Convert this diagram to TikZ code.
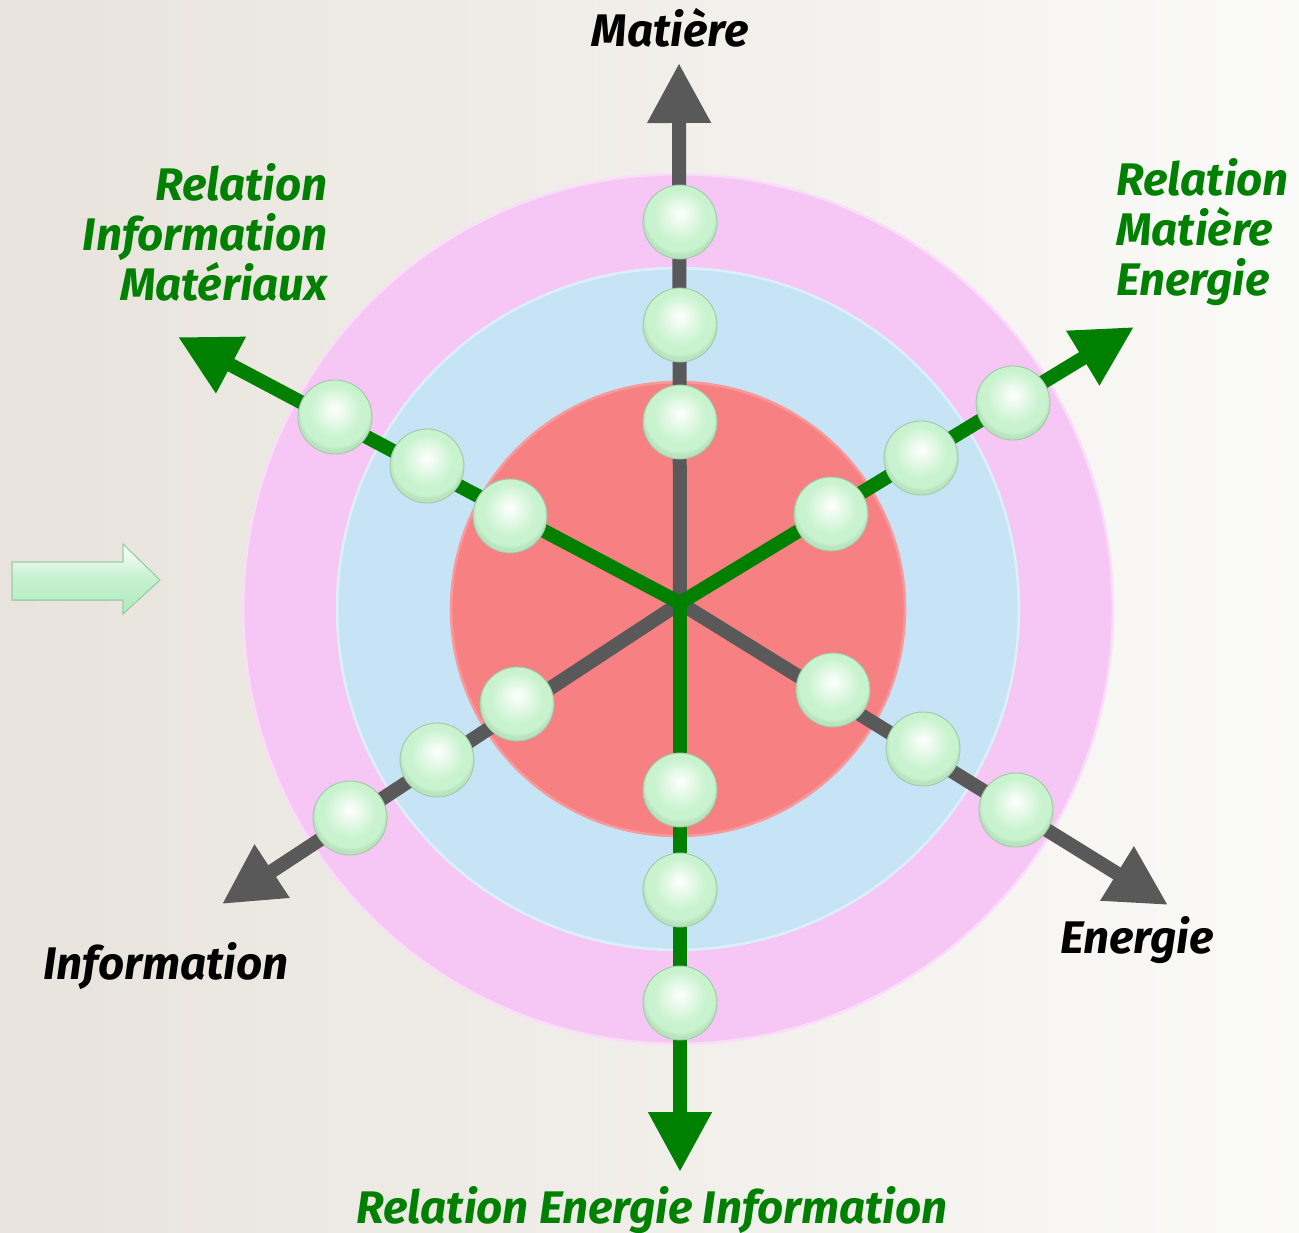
\documentclass[tikz,border=0pt]{standalone}
\usepackage{fontspec}
\setmainfont{Fira Sans}
\usepackage{tikz}
\usetikzlibrary{positioning}
\usetikzlibrary{arrows.meta}
\definecolor{vert}{RGB}{0,128,0}
\definecolor{gris}{RGB}{89,89,89}
\definecolor{anneaurose}{RGB}{246,198,244}
\definecolor{anneaubleu}{RGB}{198,228,246}
\definecolor{anneaurouge}{RGB}{247,128,130}
\definecolor{bille}{RGB}{200,243,206}
\definecolor{billebord}{RGB}{140,185,148}
\definecolor{fleche}{RGB}{178,236,190}
\definecolor{fondg}{RGB}{232,227,220}
\definecolor{fondd}{RGB}{250,250,248}
\pgfdeclareradialshading{billeshade}{\pgfqpoint{0bp}{6bp}}{color(0bp)=(white); color(9bp)=(bille!50!white); color(18bp)=(bille); color(23bp)=(bille); color(25bp)=(bille!75!billebord); color(50bp)=(bille!75!billebord)}
\tikzset{
    x=0.02cm, y=-0.02cm, % one unit = one pixel of the original
    axe/.style={ % grey axes
        draw=gris,
        line width=0.28cm,
        -{Triangle[length=1.2cm,width=1.2cm]}
    },
    relation/.style={ % green axes
        axe,
        draw=vert
    },
    bille/.style={ % little balls on the axes
        circle,
        minimum size=1.48cm,
        inner sep=0pt,
        shade, shading=billeshade,
        draw=billebord!70!bille, line width=0.5pt
    },
    titre/.style={
        font=\fontsize{26}{28.5}\selectfont\bfseries\itshape,
        inner sep=0pt
    }
}

\begin{document}
\begin{tikzpicture}
    \useasboundingbox (0,0) rectangle (1299,1233);
    \fill[left color=fondg, right color=fondd] (0,0) rectangle (1299,1233);

    % rings
    \coordinate (anneaux) at (678,609);
    \fill[anneaurose, draw=anneaurose!60!white, line width=1.5pt] (anneaux) circle[radius=8.7cm];
    \fill[anneaubleu, draw=anneaubleu!60!white, line width=1.5pt] (anneaux) circle[radius=6.82cm];
    \fill[anneaurouge, draw=anneaurouge!80!white, line width=1.5pt] (anneaux) circle[radius=4.54cm];

    % axes
    \coordinate (ctr) at (680,603);
    \coordinate (tipM) at (679,63);
    \coordinate (tipRME) at (1134,327);
    \coordinate (tipE) at (1168,905);
    \coordinate (tipREI) at (680,1172);
    \coordinate (tipI) at (222,904);
    \coordinate (tipRIM) at (178,337);

    \draw[axe] (ctr) -- (tipM);
    \draw[axe] (ctr) -- (tipE);
    \draw[axe] (ctr) -- (tipI);
    \draw[relation] (ctr) -- (tipRME);
    \draw[relation] (ctr) -- (tipREI);
    \draw[relation] (ctr) -- (tipRIM);

    % balls
    \foreach \x/\y [count=\i] in {680/222, 680/325, 680/422,
        1013/403, 921/458, 831/514,
        1016/810, 923/749, 833/690,
        680/1003, 680/890, 680/790,
        350/818, 437/760, 517/704,
        335/417, 427/466, 510/516}
        \node[bille] (b\i) at (\x,\y) {};

    % block arrow on the left
    \fill[top color=white, bottom color=fleche, middle color=fleche!75!white, draw=billebord!60!fleche, line width=0.6pt]
        (12,562) -- (123,562) -- (123,544) -- (160,580) -- (123,614) -- (123,600) -- (12,600) -- cycle;

    % labels
    \node[titre] (lblM) at (670,28) {Matière};
    \node[titre, text=vert, align=right, anchor=east] (lblRIM) at (328,232) {Relation\\Information\\Matériaux};
    \node[titre, text=vert, align=left, anchor=west] (lblRME) at (1116,232) {Relation\\Matière\\Energie};
    \node[titre] (lblE) at (1137,940) {Energie};
    \node[titre] (lblI) at (166,966) {Information};
    \node[titre, text=vert] (lblREI) at (652,1210) {Relation Energie Information};
\end{tikzpicture}
\end{document}
